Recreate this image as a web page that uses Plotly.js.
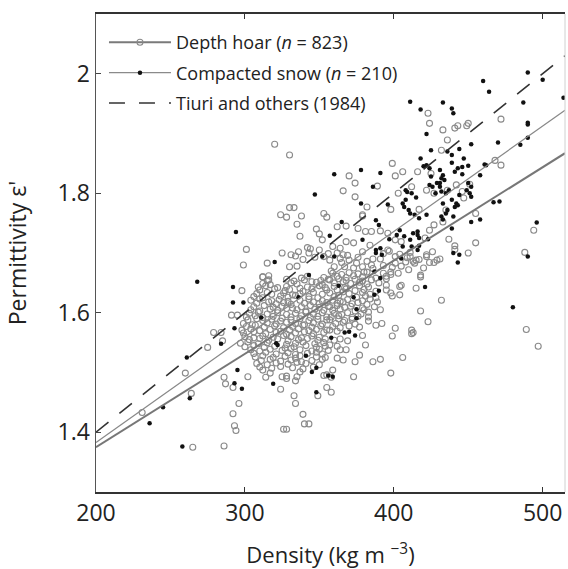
<!DOCTYPE html>
<html>
<head>
<meta charset="utf-8">
<script src="https://cdn.plot.ly/plotly-3.0.1.min.js"></script>
<style>html,body{margin:0;padding:0;background:#fff;}#chart{width:568px;height:569px;}</style>
</head>
<body>
<div id="chart"></div>
<script>
// Depth hoar samples (open circles): density (kg m-3) and permittivity
const hoarDensity = [
320,324,301,299,315,325,312,316,330,298,291,295,279,284,285,275,260,264,231,265,286,292,293,294,296,286,287,292,324,326,
330,333,328,338,335,337,348,350,352,353,355,331,334,336,342,344,343,330,335,339,347,350,353,356,
370,399,401,406,416,425,366,374,389,403,412,422,427,374,382,398,417,379,368,362,376,381,385,391,396,401,405,421,424,427,368,373,359,364,384,396,401,408,415,422,426,429,370,375,367,379,386,
362,366,379,393,397,404,411,357,364,382,391,413,417,424,360,373,393,399,405,420,
312,316,338,342,353,
312,317,331,335,348,352,
310,320,327,330,339,345,355,
306,312,324,329,334,343,349,
308,316,321,326,331,340,346,350,355,
304,310,317,322,328,335,341,347,353,
301,307,312,319,325,331,338,344,349,355,
299,305,315,321,328,334,340,346,352,
298,304,310,317,324,330,336,343,348,355,
300,306,312,319,326,331,338,345,350,
297,302,309,315,328,334,339,347,353,
304,310,317,325,331,337,345,350,356,
307,312,319,327,334,337,348,354,
308,315,321,329,335,341,350,
312,317,328,337,355,302,314,325,335,
359,365,370,376,382,393,398,
357,363,368,374,379,385,395,
360,367,377,383,395,404,
357,366,370,379,384,
359,364,369,379,384,
357,362,367,371,379,
360,365,369,378,383,
357,363,367,372,383,
359,364,370,377,
360,364,369,
357,362,
405,404,415,418,398,399,389,387,391,392,388,383,418,423,401,399,412,413,379,381,364,368,377,374,362,366,386,391,406,373,398,359,
432,412,358,355,340,343,339,334,333,328,349,353,358,346,334,328,489,497,
472,442,436,446,455,435,433,494,437,441,441,450,488,431,
472,433,441,443,449,450,436,432,423,424,
468,379,447,451,455,422,418,403,411,414,427,
315,328,333,340,345,351,356,
309,314,322,328,337,342,350,354,
308,315,318,326,332,337,346,352,
304,310,318,323,329,337,343,352,
306,313,319,325,332,338,344,350,356,
303,309,315,322,328,334,341,346,352,
302,308,312,318,324,331,337,343,349,355,
301,307,313,320,326,332,339,345,351,
299,306,314,321,328,334,340,346,353,
303,310,316,322,329,336,342,349,354,
300,306,313,320,327,333,341,348,354,
306,314,321,329,334,342,348,352,
311,317,324,331,338,345,352,
310,318,324,332,339,
362,368,373,379,388,395,
360,366,371,377,382,390,
362,368,374,380,388,395,
360,363,375,381,388,
362,366,372,376,382,
359,364,374,380,
358,363,372,376,
361,366,374,
357,362,
386,376,369,401,409,385,365,358,380,398,410
];
const hoarPermittivity = [
1.882,1.764,1.706,1.680,1.683,1.700,1.660,1.655,1.864,1.637,1.596,1.596,1.567,1.567,1.553,1.542,1.499,1.465,1.433,1.375,1.377,1.431,1.411,1.403,1.448,1.492,1.481,1.475,1.472,1.405,
1.776,1.776,1.760,1.762,1.748,1.728,1.740,1.732,1.722,1.766,1.760,1.697,1.695,1.702,1.709,1.707,1.700,1.677,1.678,1.689,1.693,1.705,1.694,1.699,
1.829,1.850,1.829,1.836,1.836,1.833,1.804,1.817,1.812,1.800,1.811,1.805,1.800,1.794,1.777,1.773,1.773,1.764,1.745,1.744,1.741,1.736,1.736,1.737,1.733,1.722,1.719,1.725,1.738,1.747,1.719,1.717,1.711,1.708,1.713,1.705,1.694,1.685,1.688,1.694,1.702,1.688,1.688,1.683,1.677,1.677,1.674,
1.700,1.697,1.702,1.699,1.703,1.698,1.701,1.688,1.691,1.686,1.690,1.686,1.689,1.684,1.677,1.675,1.679,1.676,1.678,1.675,
1.660,1.662,1.658,1.661,1.659,
1.649,1.647,1.650,1.648,1.651,1.647,
1.638,1.640,1.637,1.639,1.636,1.640,1.638,
1.627,1.625,1.628,1.626,1.629,1.627,1.625,
1.616,1.618,1.615,1.617,1.614,1.616,1.618,1.615,1.617,
1.605,1.603,1.606,1.604,1.607,1.605,1.603,1.606,1.604,
1.593,1.595,1.592,1.594,1.591,1.593,1.595,1.592,1.594,1.593,
1.582,1.580,1.583,1.581,1.584,1.582,1.580,1.583,1.581,
1.571,1.573,1.570,1.572,1.569,1.571,1.573,1.570,1.572,1.571,
1.560,1.558,1.561,1.559,1.562,1.560,1.558,1.561,1.559,
1.549,1.551,1.548,1.550,1.547,1.549,1.551,1.548,1.550,
1.538,1.536,1.539,1.537,1.540,1.538,1.536,1.539,1.537,
1.526,1.528,1.525,1.527,1.524,1.528,1.526,1.525,
1.515,1.513,1.516,1.514,1.517,1.515,1.513,
1.504,1.499,1.494,1.501,1.496,1.493,1.492,1.493,1.493,
1.666,1.664,1.667,1.665,1.668,1.666,1.664,
1.655,1.657,1.654,1.656,1.653,1.655,1.657,
1.644,1.642,1.645,1.643,1.646,1.644,
1.633,1.635,1.632,1.634,1.631,
1.621,1.619,1.622,1.620,1.623,
1.610,1.612,1.609,1.611,1.608,
1.599,1.597,1.600,1.598,1.601,
1.588,1.590,1.587,1.589,1.586,
1.577,1.575,1.578,1.576,
1.554,1.556,1.553,
1.546,1.544,
1.646,1.630,1.641,1.663,1.633,1.628,1.618,1.610,1.605,1.582,1.579,1.593,1.603,1.585,1.574,1.561,1.571,1.567,1.562,1.546,1.538,1.538,1.529,1.518,1.524,1.521,1.518,1.522,1.525,1.493,1.499,1.504,
1.621,1.565,1.467,1.475,1.414,1.414,1.430,1.448,1.461,1.405,1.461,1.495,1.492,1.509,1.486,1.490,1.572,1.544,
1.847,1.814,1.805,1.803,1.766,1.772,1.752,1.738,1.723,1.712,1.706,1.700,1.701,1.690,
1.924,1.906,1.909,1.913,1.913,1.917,1.889,1.872,1.934,1.917,
1.855,1.762,1.792,1.815,1.717,1.697,1.660,1.666,1.694,1.683,1.684,
1.654,1.656,1.653,1.655,1.652,1.654,1.656,
1.643,1.645,1.642,1.644,1.641,1.643,1.645,1.642,
1.632,1.634,1.631,1.633,1.630,1.632,1.634,1.631,
1.621,1.623,1.620,1.622,1.619,1.621,1.623,1.620,
1.610,1.612,1.609,1.611,1.608,1.610,1.612,1.609,1.611,
1.599,1.601,1.598,1.600,1.597,1.599,1.601,1.598,1.600,
1.588,1.590,1.587,1.589,1.586,1.588,1.590,1.587,1.589,1.588,
1.577,1.579,1.576,1.578,1.575,1.577,1.579,1.576,1.578,
1.566,1.568,1.565,1.567,1.564,1.566,1.568,1.565,1.567,
1.555,1.557,1.554,1.556,1.553,1.555,1.557,1.554,1.556,
1.543,1.545,1.542,1.544,1.541,1.543,1.545,1.542,1.544,
1.532,1.534,1.531,1.533,1.530,1.532,1.534,1.531,
1.520,1.522,1.519,1.521,1.518,1.520,1.522,
1.509,1.507,1.510,1.508,1.506,
1.661,1.659,1.662,1.660,1.658,1.661,
1.650,1.652,1.649,1.651,1.648,1.650,
1.638,1.640,1.637,1.639,1.636,1.638,
1.627,1.629,1.626,1.628,1.625,
1.616,1.618,1.615,1.617,1.614,
1.604,1.606,1.603,1.605,
1.593,1.595,1.592,1.594,
1.582,1.584,1.581,
1.571,1.569,
1.690,1.693,1.696,1.683,1.692,1.680,1.684,1.670,1.668,1.668,1.672
];
// Compacted snow samples (filled dots)
const snowDensity = [
294,320,268,292,292,299,311,293,284,261,263,245,236,258,298,293,295,319,322,347,352,
360,378,391,422,424,386,409,415,424,426,429,378,396,406,407,410,414,417,422,388,390,365,402,407,411,416,417,416,406,412,379,391,360,388,392,405,416,417,
336,343,321,341,345,348,
363,373,387,390,375,375,421,367,370,374,358,359,387,391,
348,356,480,
439,443,446,450,441,446,458,462,433,432,434,431,450,452,451,449,444,452,437,435,432,433,439,442,441,443,436,435,432,440,433,467,471,452,458,439,496,440,444,443,490,
490,460,464,500,514,487,433,439,440,490,490,490,485,470,452,444,436,439,447,
411,418,422,425,418,461,357,420,425,431,388,397,404,411,413,423,408,408,412,428,431
];
const snowPermittivity = [
1.735,1.685,1.652,1.643,1.617,1.617,1.592,1.574,1.548,1.525,1.457,1.442,1.415,1.376,1.473,1.482,1.504,1.481,1.546,1.798,1.694,
1.832,1.839,1.834,1.847,1.842,1.811,1.802,1.793,1.814,1.811,1.817,1.783,1.781,1.783,1.777,1.772,1.764,1.758,1.764,1.755,1.747,1.752,1.730,1.728,1.722,1.730,1.725,1.736,1.711,1.711,1.722,1.708,1.694,1.705,1.697,1.691,1.705,1.712,
1.626,1.663,1.549,1.528,1.501,1.508,
1.645,1.626,1.630,1.637,1.606,1.591,1.643,1.567,1.568,1.562,1.558,1.493,1.669,1.658,
1.467,1.495,1.609,
1.851,1.842,1.844,1.846,1.836,1.832,1.830,1.847,1.830,1.825,1.822,1.817,1.817,1.811,1.800,1.805,1.797,1.794,1.805,1.800,1.803,1.783,1.789,1.783,1.777,1.780,1.772,1.766,1.761,1.761,1.756,1.785,1.786,1.752,1.756,1.741,1.751,1.700,1.697,1.684,1.694,
2.002,1.988,1.970,1.990,1.960,1.952,1.952,1.942,1.934,1.918,1.915,1.893,1.881,1.885,1.882,1.874,1.870,1.864,1.858,
1.953,1.940,1.899,1.872,1.858,1.848,1.729,1.845,1.828,1.839,1.700,1.723,1.738,1.766,1.733,1.723,1.789,1.805,1.800,1.800,1.811
];
// Fitted lines (end points)
const fitDensity = [200, 515];
const hoarFit = [1.375, 1.867];
const snowFit = [1.383, 1.939];
const tiuriFit = [1.40, 2.03];

const xTicks = [200, 300, 400, 500];
const yTicks = [1.4, 1.6, 1.8, 2.0];
const yTickText = ['1.4', '1.6', '1.8', '2'];

const names = ['Depth hoar (<i>n</i> = 823)', 'Compacted snow (<i>n</i> = 210)', 'Tiuri and others (1984)'];

// separate every point by a gap so the legend glyph shows line + marker while no line joins points
function gapped(a){ const o=[]; a.forEach(v=>{o.push(v); o.push(null);}); return o; }

const FONT = '"Open Sans", "DejaVu Sans", sans-serif';

const traces = [
  {type:'scatter', mode:'lines+markers', name:names[0], legendgroup:'g1', x:gapped(hoarDensity), y:gapped(hoarPermittivity),
   connectgaps:false, line:{color:'#7a7a7a', width:2},
   marker:{symbol:'circle-open', size:6, color:'#8a8a8a', line:{width:1.1, color:'#8a8a8a'}}},
  {type:'scatter', mode:'lines+markers', name:names[1], legendgroup:'g2', x:gapped(snowDensity), y:gapped(snowPermittivity),
   connectgaps:false, line:{color:'#8a8a8a', width:1.1},
   marker:{symbol:'circle', size:4.5, color:'#111'}},
  {type:'scatter', mode:'lines', x:fitDensity, y:hoarFit, showlegend:false, legendgroup:'g1', line:{color:'#777', width:2}},
  {type:'scatter', mode:'lines', x:fitDensity, y:snowFit, showlegend:false, legendgroup:'g2', line:{color:'#888', width:1.2}},
  {type:'scatter', mode:'lines', name:names[2], legendgroup:'g3', x:fitDensity, y:tiuriFit, line:{color:'#333', width:1.6, dash:'16px,14px'}}
];

const layout = {
  width:568, height:569,
  margin:{l:96, r:3, t:14, b:77},
  paper_bgcolor:'#fff', plot_bgcolor:'#fff',
  font:{family:FONT, color:'#222'},
  showlegend:true,
  legend:{x:0.017, y:0.979, xanchor:'left', yanchor:'top', bgcolor:'rgba(0,0,0,0)',
          font:{family:FONT, size:18, color:'#222'}, itemwidth:62, tracegroupgap:4},
  xaxis:{range:[200,515], tickvals:xTicks, ticktext:xTicks.map(String), ticks:'inside', ticklen:5, tickcolor:'#333',
         showline:true, linecolor:'#333', linewidth:1.6, mirror:'ticks', showgrid:false, zeroline:false,
         tickfont:{family:FONT, size:23, color:'#222'},
         title:{text:'Density (kg m <sup>−3</sup>)', font:{family:FONT, size:22, color:'#222'}, standoff:23}},
  yaxis:{range:[1.3,2.1], tickvals:yTicks, ticktext:yTickText, ticks:'inside', ticklen:5, tickcolor:'#444',
         showline:true, linecolor:'#555', linewidth:1.5, showgrid:false, zeroline:false,
         tickfont:{family:FONT, size:23, color:'#222'},
         title:{text:'Permittivity ε\'', font:{family:FONT, size:23, color:'#222'}, standoff:24}},
  shapes:[{type:'line', xref:'paper', yref:'paper', x0:1, x1:1, y0:0, y1:1, line:{color:'#d0d0d0', width:1}}]
};

Plotly.newPlot('chart', traces, layout, {staticPlot:true, displayModeBar:false});
</script>
</body>
</html>
